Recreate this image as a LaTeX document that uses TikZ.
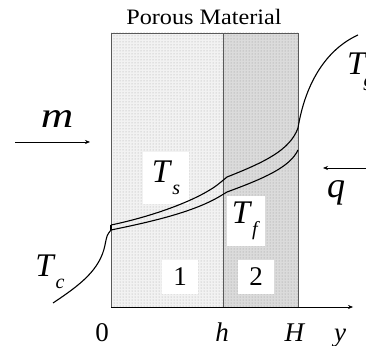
\documentclass[tikz,border=0pt]{standalone}
\usepackage{fontspec}
\setmainfont{Liberation Serif}
\usetikzlibrary{arrows.meta,patterns}

\tikzset{
  lbl/.style={inner sep=1pt},
  axislbl/.style={anchor=base, inner sep=0pt, font=\fontsize{27}{27}\selectfont},
  numbox/.style={fill=white, minimum width=36pt, minimum height=34pt, inner sep=0pt, font=\fontsize{27}{27}\selectfont},
  curve/.style={line width=1.1pt},
  flow/.style={line width=0.6pt, -{Stealth[length=5pt,width=4pt]}}
}
\newcommand{\Tsub}[1]{\textit{T}\raisebox{-0.38em}{\fontsize{20}{20}\selectfont\textit{#1}}}

\begin{document}
\begin{tikzpicture}[x=1pt,y=1pt]
			\useasboundingbox (0,0) rectangle (366,345);
			% Define layers
			\fill[gray!10] (111,38) rectangle (223,312);
			\fill[pattern=dots, pattern color=gray!70] (111,38) rectangle (223,312);
			\fill[gray!28] (223,38) rectangle (298,312);
			\fill[pattern=dots, pattern color=gray!85] (223,38) rectangle (298,312);
			\draw[gray!70!black, line width=0.7pt] (111,38) rectangle (298,312);
			\draw[gray!70!black, line width=0.7pt] (223,38) -- (223,312);
			
			\node (title) at (204,328) {\fontsize{22}{22}\selectfont\scalebox{1.1}[1]{Porous Material}};
			
			% Add labels inside layers
			\node (n1) at (180,68) [numbox] {1};
			\node (n2) at (256,68) [numbox] {2};
			\node (ts) at (166,167) [fill=white, minimum width=46pt, minimum height=52pt, inner sep=0pt] {\fontsize{33}{33}\selectfont\Tsub{s}};
			\node (tf) at (246,124) [fill=white, minimum width=38pt, minimum height=50pt, inner sep=0pt] {\fontsize{33}{33}\selectfont\Tsub{f}};
			
			% Draw temperature curves
			\coordinate (c0) at (53,42);
			\coordinate (s0) at (111,120);
			\coordinate (f0) at (111,115);
			\draw[curve] (c0) .. controls (80,60) and (100,75) .. (105,100) .. controls (107,110) .. (f0);
			\draw[curve] (f0) .. controls (150,123) and (195,133) .. (222,150) -- (227,153) .. controls (265,167) and (290,178) .. (298,195);
			\draw[curve] (s0) .. controls (150,128) and (200,145) .. (221,163) -- (227,168) .. controls (265,183) and (290,195) .. (298,217);
			\draw[curve] (f0) -- (s0);
			\coordinate (g1) at (358,310);
			\draw[curve] (298,217) .. controls (305,260) and (325,295) .. (g1);
			
			% Axis and flows
			\coordinate (o) at (111,38);
			\coordinate (yend) at (353,38);
			\draw[flow] (o) -- (yend);
			\coordinate (ma) at (15,203);
			\coordinate (mb) at (90,203);
			\draw[flow] (ma) -- (mb);
			\coordinate (qa) at (366,177);
			\coordinate (qb) at (323,177);
			\draw[flow] (qa) -- (qb);
			
			\node (m) at (57,226) [lbl] {\fontsize{36}{36}\selectfont\scalebox{1.25}[1]{\textit{m}}};
			\node (q) at (336,152) [lbl] {\fontsize{36}{36}\selectfont\textit{q}};
			\node (tc) at (50,73) [lbl] {\fontsize{33}{33}\selectfont\Tsub{c}};
			\node (tg) at (346,273) [lbl, anchor=west] {\fontsize{33}{33}\selectfont\textit{T}\kern-4pt\raisebox{-0.38em}{\fontsize{20}{20}\selectfont\textit{g}}};
			
			\node (l0) at (102,4) [axislbl] {0};
			\node (lh) at (222,4) [axislbl] {\textit{h}};
			\node (lH) at (295,4) [axislbl] {\textit{H}};
			\node (ly) at (340,4) [axislbl] {\textit{y}};
		\end{tikzpicture}
\end{document}
